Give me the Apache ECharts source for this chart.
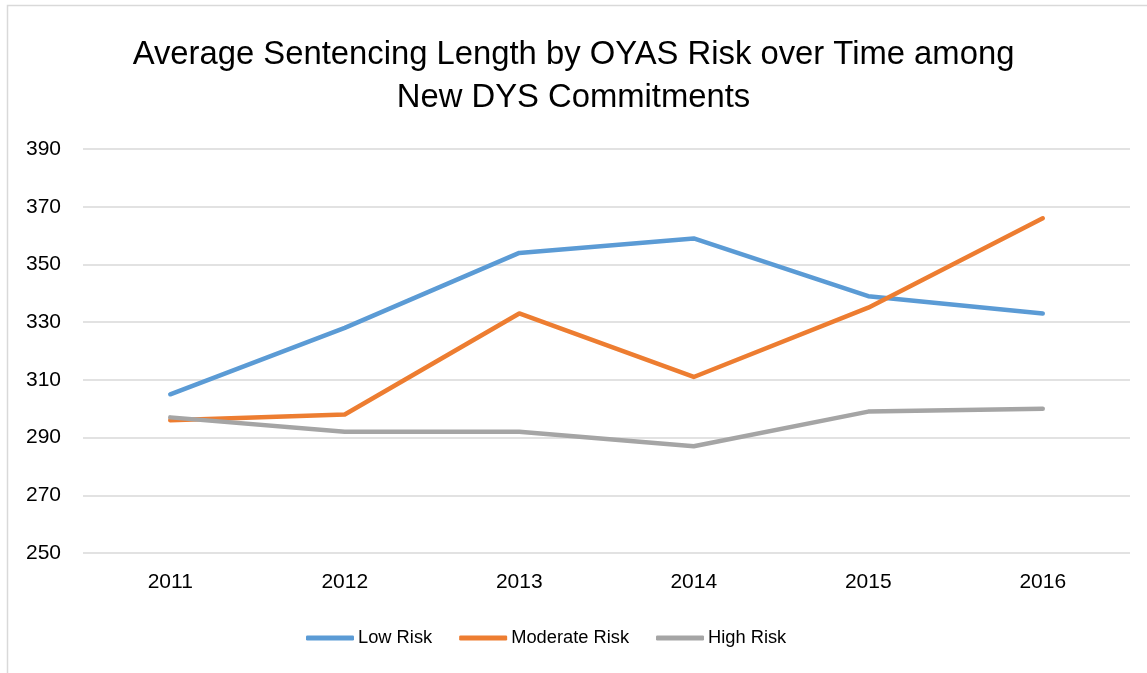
<!DOCTYPE html>
<html lang="en">
<head>
    <meta charset="UTF-8">
    <title>Average Sentencing Length by OYAS Risk</title>
    <script src="https://cdn.jsdelivr.net/npm/echarts@6/dist/echarts.min.js"></script>
    <style>
        html, body { margin: 0; padding: 0; background: #fff; }
        #chart { width: 1147px; height: 673px; }
    </style>
</head>
<body>
<div id="chart"></div>
<script>
    // data
    const years = ['2011', '2012', '2013', '2014', '2015', '2016'];
    const lowRisk = [305, 328, 354, 359, 339, 333];
    const moderateRisk = [296, 298, 333, 311, 335, 366];
    const highRisk = [297, 292, 292, 287, 299, 300];

    const font = '"Liberation Sans", Arial, sans-serif';

    const chart = echarts.init(document.getElementById('chart'));

    const option = {
        backgroundColor: '#fff',
        animation: false,
        graphic: [{
            type: 'rect',
            shape: {x: 7.5, y: 5.5, width: 1160, height: 700},
            style: {fill: 'none', stroke: '#d9d9d9', lineWidth: 1.5},
            silent: true
        }],
        title: {
            text: 'Average Sentencing Length by OYAS Risk over Time among\nNew DYS Commitments',
            left: 'center',
            top: 28,
            textStyle: {
                fontFamily: font,
                fontSize: 32.8,
                fontWeight: 'normal',
                color: '#000',
                lineHeight: 43
            }
        },
        legend: {
            bottom: 21,
            left: 301,
            itemWidth: 48,
            itemHeight: 5,
            itemGap: 27,
            icon: 'roundRect',
            textStyle: {fontFamily: font, fontSize: 18.3, color: '#000', padding: [0, 0, 0, -1]},
            data: ['Low Risk', 'Moderate Risk', 'High Risk']
        },
        grid: {left: 83, right: 17, top: 149, bottom: 120},
        xAxis: {
            type: 'category',
            data: years,
            boundaryGap: true,
            axisLine: {show: false},
            axisTick: {show: false},
            axisLabel: {fontFamily: font, fontSize: 21, color: '#000', margin: 19}
        },
        yAxis: {
            type: 'value',
            min: 250,
            max: 390,
            interval: 20,
            axisLine: {show: false},
            axisTick: {show: false},
            axisLabel: {fontFamily: font, fontSize: 21, color: '#000', margin: 22},
            splitLine: {lineStyle: {color: '#d9d9d9', width: 1.5}}
        },
        series: [
            {
                name: 'Low Risk',
                type: 'line',
                data: lowRisk,
                symbol: 'none',
                color: '#5b9bd5',
                lineStyle: {width: 4.5, cap: 'round', join: 'round'}
            },
            {
                name: 'Moderate Risk',
                type: 'line',
                data: moderateRisk,
                symbol: 'none',
                color: '#ed7d31',
                lineStyle: {width: 4.5, cap: 'round', join: 'round'}
            },
            {
                name: 'High Risk',
                type: 'line',
                data: highRisk,
                symbol: 'none',
                color: '#a5a5a5',
                lineStyle: {width: 4.5, cap: 'round', join: 'round'}
            }
        ]
    };

    chart.setOption(option);
</script>
</body>
</html>
